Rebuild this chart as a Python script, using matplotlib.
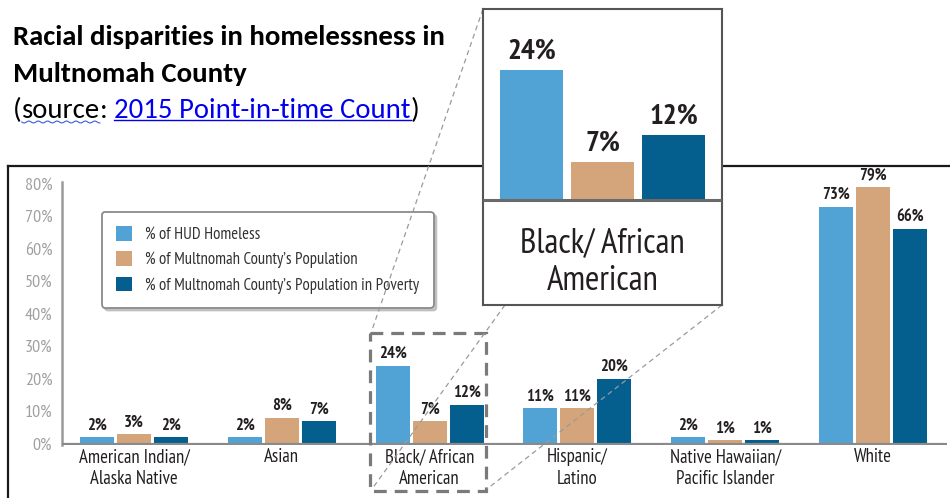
import matplotlib
matplotlib.use('Agg')
import matplotlib.pyplot as plt
import numpy as np
from matplotlib.patches import Rectangle

# data
categories = ['American Indian/\nAlaska Native', 'Asian', 'Black/ African\nAmerican',
              'Hispanic/\nLatino', 'Native Hawaiian/\nPacific Islander', 'White']
hud_homeless = [2, 2, 24, 11, 2, 73]
county_pop = [3, 8, 7, 11, 1, 79]
county_poverty = [2, 7, 12, 20, 1, 66]
series_names = ['% of HUD Homeless',
                '% of Multnomah County’s Population',
                '% of Multnomah County’s Population in Poverty']
y_ticks = [0, 10, 20, 30, 40, 50, 60, 70, 80]
zoom_cat = 2  # Black/ African American

colors = ['#52a3d5', '#d4a57a', '#045f8f']
narrow = ['PT Sans Narrow', 'Archivo Narrow', 'Roboto Condensed', 'Fira Sans Condensed',
          'Open Sans Condensed', 'DejaVu Sans']
word = ['Carlito', 'Lato', 'DejaVu Sans']
dark = '#231f20'

W, H = 950, 498
fig = plt.figure(figsize=(W / 100, H / 100), dpi=100)
fig.canvas.draw()
rend = fig.canvas.get_renderer()

def px_axes(l, t, r, b, z):
    # axes placed by pixel box (y downwards)
    return fig.add_axes([l / W, 1 - b / H, (r - l) / W, (b - t) / H], zorder=z)

def fit_size(s, width, **kw):
    # font size that gives the wanted pixel width
    t = fig.text(0, 0, s, fontsize=20, **kw)
    w = t.get_window_extent(rend).width
    t.remove()
    return 20 * width / w

# background overlay: title and chart frame
back = px_axes(0, 0, W, H, 0)
back.set_xlim(0, W)
back.set_ylim(H, 0)
back.axis('off')
back.plot([8, W], [166, 166], color='#1a1a1a', lw=1.6)
back.plot([8, 8], [166, H], color='#1a1a1a', lw=1.6)
tsize = fit_size('Racial disparities in homelessness in', 432, family=word, fontweight='bold')
back.text(13, 45, 'Racial disparities in homelessness in', family=word,
          fontweight='bold', fontsize=tsize, color='black')
back.text(13, 82, 'Multnomah County', family=word,
          fontweight='bold', fontsize=tsize, color='black')

# source line built from pieces
ssize = fit_size('(source: 2015 Point-in-time Count)', 405, family=word)
x = 13
pieces = [('(', 'black'), ('source', 'black'), (': ', 'black'),
          ('2015 Point-in-time Count', '#0000ee'), (')', 'black')]
for s, c in pieces:
    t = back.text(x, 118, s, family=word, fontsize=ssize, color=c)
    bb = t.get_window_extent(rend)
    x0, x1 = x, bb.x1
    if s == 'source':
        xs = np.linspace(x0, x1, 60)
        back.plot(xs, 122 + 1.0 * np.sin((xs - x0) / 1.5), color='#3b5bdb', lw=0.8)
    if c == '#0000ee':
        back.plot([x0, x1], [120, 120], color='#0000ee', lw=1)
    x = x1

# main bar chart
ax = px_axes(62, 182, 947, 445, 1)
ax.set_facecolor('none')
ppx = 29.4  # pixels per percent point
ax.set_ylim(-12 / ppx, 80 + 16 / ppx)
gap = 147.8
ax.set_xlim((62 - 134) / gap, (947 - 134) / gap)
xpos = np.arange(len(categories))
bw = 34 / gap
off = 37 / gap
for i, (vals, col) in enumerate(zip([hud_homeless, county_pop, county_poverty], colors)):
    bars = ax.bar(xpos + (i - 1) * off, vals, bw, color=col, label=series_names[i], zorder=2)
    ax.bar_label(bars, labels=[f'{v}%' for v in vals], padding=2.5, family=narrow,
                 fontsize=12, fontweight='bold', color=dark)

ax.axhline(0, color='#8a8a8a', lw=1.6, zorder=3)
for s in ['top', 'right', 'bottom']:
    ax.spines[s].set_visible(False)
ax.spines['left'].set_color('#9a9a9a')
ax.spines['left'].set_linewidth(1.8)
ax.set_yticks(y_ticks)
ax.set_yticklabels([f'{v}%' for v in y_ticks], family=narrow, fontsize=13, color='#a0a0a0')
ax.set_xticks(xpos)
ax.set_xticklabels(categories, family=narrow, fontsize=13.5, color=dark, linespacing=1.3)
ax.tick_params(axis='both', length=0)
ax.tick_params(axis='y', pad=7)
ax.tick_params(axis='x', pad=2)

leg = ax.legend(loc='upper left', bbox_to_anchor=(102 / W, 1 - 212 / H),
                bbox_transform=fig.transFigure, borderaxespad=0,
                prop={'family': narrow, 'size': 12}, labelcolor='#333333',
                frameon=True, fancybox=True, shadow={'color': '#9a9a9a', 'alpha': 0.5},
                handlelength=0.95, handleheight=0.95, labelspacing=0.5,
                borderpad=0.85, handletextpad=0.8)
leg.get_frame().set_edgecolor('#8a8a8a')
leg.get_frame().set_linewidth(1.3)

# front overlay: zoom frame and connector lines
front = px_axes(0, 0, W, H, 3)
front.set_xlim(0, W)
front.set_ylim(H, 0)
front.axis('off')
front.add_patch(Rectangle((370, 333), 116, 158, fill=False, ec='#7a7a7a', lw=2.3,
                          ls=(0, (4, 2.5))))
for (xa, ya), (xb, yb) in [((483, 9), (372, 330)), ((505, 305), (372, 489)),
                           ((722, 305), (487, 489))]:
    front.plot([xa, xb], [ya, yb], color='#9a9a9a', lw=0.9, ls=(0, (4, 3)))

# inset enlargement of the zoomed group
ins = px_axes(483, 9, 722, 305, 5)
ins.set_facecolor('white')
ipx = 5.4
ins.set_ylim(-(305 - 200) / ipx, (200 - 9) / ipx)
ins.set_xlim(-1.683, 1.683)
zvals = [hud_homeless[zoom_cat], county_pop[zoom_cat], county_poverty[zoom_cat]]
ibars = ins.bar([-1, 0, 1], zvals, 0.9, color=colors, zorder=2)
ins.bar_label(ibars, labels=[f'{v}%' for v in zvals], padding=4, family=narrow,
              fontsize=21, fontweight='bold', color=dark)
ins.axhline(0, color='#6a6a6a', lw=2.2, zorder=3)
ins.text(0, -(262 - 200) / ipx, categories[zoom_cat], ha='center', va='center',
         family=narrow, fontsize=25, color=dark, linespacing=1.2)
ins.set_xticks([])
ins.set_yticks([])
for s in ins.spines.values():
    s.set_color('#555555')
    s.set_linewidth(1.5)

fig.savefig('out.png', dpi=100)
